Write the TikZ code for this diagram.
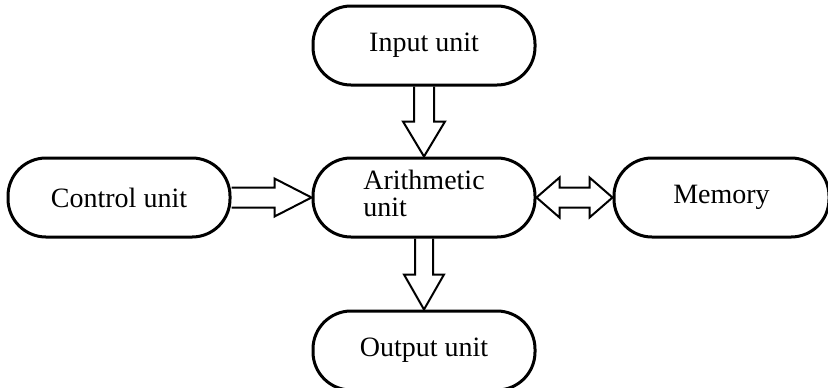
\documentclass[tikz,border=0pt]{standalone}
\usepackage{fontspec}
\setmainfont{Liberation Serif}
\usetikzlibrary{positioning,calc}

\begin{document}
\begin{tikzpicture}[
  node distance=35pt and 40pt,
  unit/.style={rectangle, rounded corners=19pt, draw, line width=1.5pt, minimum height=39.5pt,
               minimum width=111pt, text centered, font=\fontsize{14}{13.5}\selectfont},
  hollow/.style={draw, line width=1pt, line join=miter}
]
\useasboundingbox (0,0) rectangle (414pt,-193.5pt);

\node[unit] (alu) at (212pt,-98.75pt) {\begin{tabular}{@{}l@{}}Arithmetic\\unit\end{tabular}};
\node[unit, above=of alu] (inunit) {Input unit};
\node[unit, below=35.5pt of alu] (outunit) {Output unit};
\node[unit, left=of alu] (ctrl) {Control unit};
\node[unit, right=38pt of alu, minimum width=107.5pt] (mem) {Memory};

% hollow block arrows
\draw[hollow] let \p1=(inunit.south), \p2=(alu.north) in
  (\x1-5pt,\y1) -- (\x1-5pt,\y2+17.5pt) -- (\x1-10.5pt,\y2+17.5pt) -- (\x1,\y2)
  -- (\x1+10.5pt,\y2+17.5pt) -- (\x1+5pt,\y2+17.5pt) -- (\x1+5pt,\y1);
\draw[hollow] let \p1=(alu.south), \p2=(outunit.north) in
  (\x1-4.5pt,\y1) -- (\x1-4.5pt,\y2+17.5pt) -- (\x1-10pt,\y2+17.5pt) -- (\x1,\y2)
  -- (\x1+10pt,\y2+17.5pt) -- (\x1+4.5pt,\y2+17.5pt) -- (\x1+4.5pt,\y1);
\draw[hollow] let \p1=(ctrl.east), \p2=(alu.west) in
  (\x1,\y2+5pt) -- (\x2-18.5pt,\y2+5pt) -- (\x2-18.5pt,\y2+9.5pt) -- (\x2,\y2)
  -- (\x2-18.5pt,\y2-9.5pt) -- (\x2-18.5pt,\y2-5pt) -- (\x1,\y2-5pt);
\draw[hollow] let \p1=(alu.east), \p2=(mem.west) in
  (\x1,\y1) -- (\x1+11.5pt,\y1+10pt) -- (\x1+11.5pt,\y1+5pt) -- (\x2-11.5pt,\y1+5pt)
  -- (\x2-11.5pt,\y1+10pt) -- (\x2,\y1) -- (\x2-11.5pt,\y1-10pt) -- (\x2-11.5pt,\y1-5pt)
  -- (\x1+11.5pt,\y1-5pt) -- (\x1+11.5pt,\y1-10pt) -- cycle;

\end{tikzpicture}
\end{document}
